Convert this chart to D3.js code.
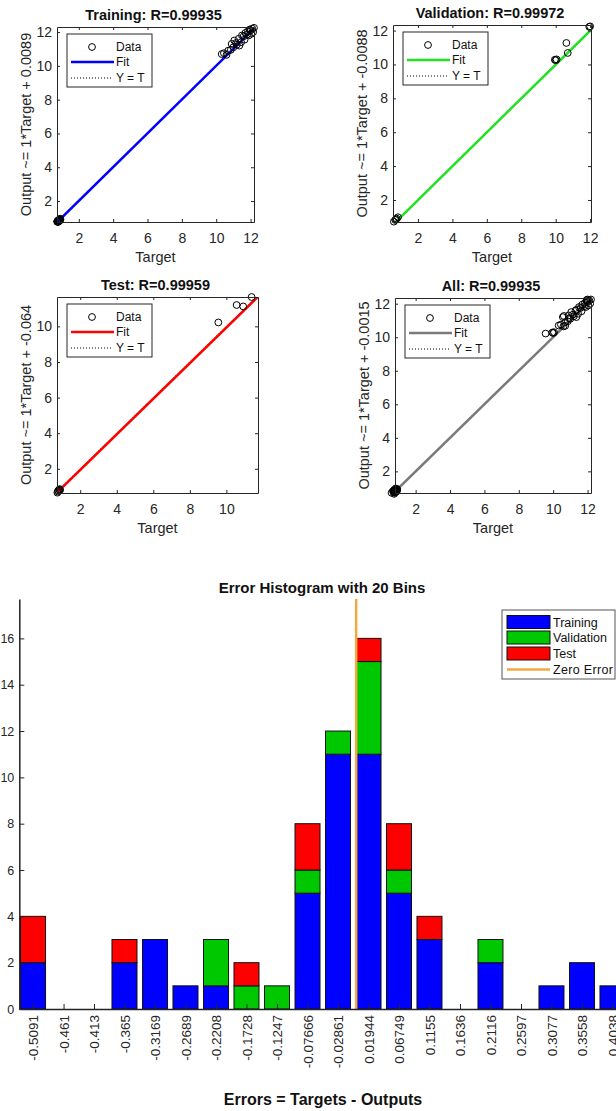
<!DOCTYPE html>
<html>
<head>
<meta charset="utf-8">
<script src="https://cdn.jsdelivr.net/npm/d3@7/dist/d3.min.js"></script>
<style>
body{margin:0;background:#fff;}
svg{display:block;font-family:"Liberation Sans",Arial,Helvetica,sans-serif;}
</style>
</head>
<body>
<svg></svg>
<script>
// regression data (target, output)
var trainTarget = [0.74,0.76,0.78,0.8,0.82,0.84,0.86,0.88,0.9,0.92,0.75,0.79,0.83,0.87,0.91,0.77,0.81,0.85,0.89,0.93,0.8,0.84,0.78,0.86,
                   10.32,10.45,10.6,10.7,10.85,10.9,11.0,11.05,11.15,11.2,11.3,11.35,11.45,11.5,11.6,11.65,11.7,11.8,11.85,11.9,12.0,12.05,12.1,12.15,12.2,11.95];
var trainOutput = [0.78,0.8,0.76,0.84,0.8,0.88,0.83,0.9,0.86,0.95,0.79,0.77,0.86,0.84,0.93,0.82,0.85,0.81,0.92,0.9,0.78,0.87,0.8,0.89,
                   10.7,10.75,10.65,10.9,10.95,11.3,11.1,11.5,11.35,11.25,11.6,11.2,11.4,11.8,11.75,11.55,11.95,11.85,12.05,11.8,12.1,11.9,12.2,12.0,12.25,12.15];
var valTarget = [0.6,0.68,0.76,0.84,0.72,9.95,10.0,10.05,10.62,10.7,11.95,12.0];
var valOutput = [0.72,0.82,0.9,0.98,0.85,10.28,10.25,10.3,11.27,10.68,12.22,12.25];
var testTarget = [0.75,0.8,0.85,0.9,0.78,0.88,9.56,10.56,10.92,11.38];
var testOutput = [0.66,0.78,0.82,0.8,0.72,0.86,10.22,11.2,11.12,11.65];
var allTarget = trainTarget.concat(valTarget, testTarget);
var allOutput = trainOutput.concat(valOutput, testOutput);

var panelTitles = ["Training: R=0.99935","Validation: R=0.99972","Test: R=0.99959","All: R=0.99935"];
var fitOffsets = [0.0089,-0.0088,-0.064,-0.0015];
var fitLabels = ["0.0089","-0.0088","-0.064","-0.0015"];
var fitColors = ["#0000ff","#22e022","#ff0000","#7a7a7a"];
var xDomains = [[0.73,12.2],[0.55,12.05],[0.73,11.73],[0.8,12.2]];
var yDomains = [[0.76,12.3],[0.7,12.33],[0.64,11.65],[0.71,12.34]];
var axisTicks = [[2,4,6,8,10,12],[2,4,6,8,10,12],[2,4,6,8,10],[2,4,6,8,10,12]];
var legendLabels = ["Data","Fit","Y = T"];

// error histogram
var binLabels = ["-0.5091","-0.461","-0.413","-0.365","-0.3169","-0.2689","-0.2208","-0.1728","-0.1247","-0.07666",
                 "-0.02861","0.01944","0.06749","0.1155","0.1636","0.2116","0.2597","0.3077","0.3558","0.4038"];
var trainCounts = [2,0,0,2,3,1,1,0,0,5,11,11,5,3,0,2,0,1,2,1];
var valCounts   = [0,0,0,0,0,0,2,1,1,1,1,4,1,0,0,1,0,0,0,0];
var testCounts  = [2,0,0,1,0,0,0,1,0,2,0,1,2,1,0,0,0,0,0,0];
var histTicks = [0,2,4,6,8,10,12,14,16];
var histSeries = ["Training","Validation","Test"];
var histColors = ["#0000ff","#00c800","#ff0000"];

var svg = d3.select("svg")
            .attr("width",616)
            .attr("height",1111);
svg.append("rect").attr("width",616).attr("height",1111).attr("fill","white");

var boxes = [
  {x0:57,x1:254,y0:27,y1:222},
  {x0:393,x1:591,y0:25,y1:222},
  {x0:57,x1:258,y0:297,y1:493},
  {x0:395,x1:591,y0:298,y1:493}
];
var targets = [trainTarget,valTarget,testTarget,allTarget];
var outputs = [trainOutput,valOutput,testOutput,allOutput];

var styleAxis = function(g,size)
{
  g.attr("font-family",null).attr("font-size",null);
  g.selectAll("path").attr("stroke","#262626");
  g.selectAll("line").attr("stroke","#262626");
  g.selectAll("text").attr("fill","#262626").attr("font-size",size);
}

var drawPanel = function(i)
{
  var box = boxes[i];
  var xScale = d3.scaleLinear().domain(xDomains[i]).range([box.x0,box.x1]);
  var yScale = d3.scaleLinear().domain(yDomains[i]).range([box.y1,box.y0]);
  var g = svg.append("g");

  g.append("clipPath").attr("id","clip"+i)
   .append("rect")
   .attr("x",box.x0).attr("y",box.y0)
   .attr("width",box.x1-box.x0).attr("height",box.y1-box.y0);

  // Y = T dotted, then fit
  var lineGen = d3.line().x(function(d){return xScale(d[0])}).y(function(d){return yScale(d[1])});
  var xd = xDomains[i];
  g.append("path")
   .attr("d",lineGen([[xd[0],xd[0]],[xd[1],xd[1]]]))
   .attr("clip-path","url(#clip"+i+")")
   .attr("stroke","black").attr("stroke-width",1)
   .attr("stroke-dasharray","1,2").attr("fill","none");
  g.append("path")
   .attr("d",lineGen([[xd[0],xd[0]+fitOffsets[i]],[xd[1],xd[1]+fitOffsets[i]]]))
   .attr("clip-path","url(#clip"+i+")")
   .attr("stroke",fitColors[i]).attr("stroke-width",2.5).attr("fill","none");

  g.append("g").selectAll("circle")
   .data(targets[i])
   .enter()
   .append("circle")
   .attr("cx",function(d){return xScale(d)})
   .attr("cy",function(d,j){return yScale(outputs[i][j])})
   .attr("r",3.4)
   .attr("fill","none")
   .attr("stroke","black")
   .attr("stroke-width",1);

  // axes, ticks inward on all sides
  var bottom = g.append("g").attr("transform","translate(0,"+box.y1+")")
    .call(d3.axisBottom(xScale).tickValues(axisTicks[i]).tickSizeInner(-3).tickSizeOuter(0).tickPadding(11));
  styleAxis(bottom,"14px");
  var left = g.append("g").attr("transform","translate("+box.x0+",0)")
    .call(d3.axisLeft(yScale).tickValues(axisTicks[i]).tickSizeInner(-3).tickSizeOuter(0).tickPadding(5));
  styleAxis(left,"14px");
  var top = g.append("g").attr("transform","translate(0,"+box.y0+")")
    .call(d3.axisTop(xScale).tickValues(axisTicks[i]).tickSizeInner(-3).tickSizeOuter(0).tickFormat(""));
  styleAxis(top,"14px");
  var right = g.append("g").attr("transform","translate("+box.x1+",0)")
    .call(d3.axisRight(yScale).tickValues(axisTicks[i]).tickSizeInner(-3).tickSizeOuter(0).tickFormat(""));
  styleAxis(right,"14px");

  var cx = (box.x0+box.x1)/2;
  g.append("text")
   .attr("x",cx-2).attr("y",box.y0-7)
   .attr("text-anchor","middle")
   .attr("font-weight","bold").attr("font-size","14.5px")
   .attr("fill","#111")
   .text(panelTitles[i]);
  g.append("text")
   .attr("x",cx).attr("y",box.y1+40)
   .attr("text-anchor","middle")
   .attr("font-size","14.5px").attr("fill","#262626")
   .text("Target");
  g.append("text")
   .attr("transform","translate("+(box.x0-26)+","+((box.y0+box.y1)/2)+") rotate(-90)")
   .attr("text-anchor","middle")
   .attr("font-size","14.5px").attr("fill","#262626")
   .text("Output ~= 1*Target + "+fitLabels[i]);

  // legend
  var lx = box.x0+10, ly = box.y0+7;
  var leg = g.append("g");
  leg.append("rect").attr("x",lx).attr("y",ly).attr("width",85).attr("height",53)
     .attr("fill","white").attr("stroke","#262626").attr("stroke-width",1);
  var rows = [ly+13,ly+28,ly+44];
  leg.append("circle").attr("cx",lx+25).attr("cy",rows[0]).attr("r",3.4)
     .attr("fill","none").attr("stroke","black");
  leg.append("line").attr("x1",lx+4).attr("x2",lx+47).attr("y1",rows[1]).attr("y2",rows[1])
     .attr("stroke",fitColors[i]).attr("stroke-width",2.5);
  leg.append("line").attr("x1",lx+4).attr("x2",lx+45).attr("y1",rows[2]).attr("y2",rows[2])
     .attr("stroke","black").attr("stroke-width",1).attr("stroke-dasharray","1,2");
  leg.selectAll("text.lab")
     .data(legendLabels)
     .enter()
     .append("text")
     .attr("x",lx+49)
     .attr("y",function(d,j){return rows[j]+4})
     .attr("font-size","12px").attr("fill","#111")
     .text(function(d){return d});
};

[0,1,2,3].forEach(function(i){ drawPanel(i); });

// ---------- error histogram ----------
var binCenters = binLabels.map(function(s){return +s});
var step = (binCenters[binCenters.length-1]-binCenters[0])/(binCenters.length-1);
var hx = d3.scaleLinear()
           .domain([binCenters[0]-0.45*step, binCenters[binCenters.length-1]+0.45*step])
           .range([19.3,626.2]);
var hy = d3.scaleLinear().domain([0,17.7]).range([1009,599]);

var rowsH = binCenters.map(function(c,i){
  return {center:c, Training:trainCounts[i], Validation:valCounts[i], Test:testCounts[i]};
});
var stacked = d3.stack().keys(histSeries)(rowsH);
var barW = hx(step*0.82)-hx(0);

var hg = svg.append("g");
stacked.forEach(function(layer,k)
{
  hg.append("g").selectAll("rect")
    .data(layer.filter(function(d){return d[1]>d[0]}))
    .enter()
    .append("rect")
    .attr("x",function(d){return hx(d.data.center)-barW/2})
    .attr("y",function(d){return hy(d[1])})
    .attr("width",barW)
    .attr("height",function(d){return hy(d[0])-hy(d[1])})
    .attr("fill",histColors[k])
    .attr("stroke","#111")
    .attr("stroke-width",1);
});

// zero error line
hg.append("line")
  .attr("x1",hx(0)).attr("x2",hx(0))
  .attr("y1",hy(17.7)).attr("y2",hy(0))
  .attr("stroke","#f0aa40").attr("stroke-width",2.5);

var hAxisX = hg.append("g").attr("transform","translate(0,"+hy(0)+")")
  .call(d3.axisBottom(hx).tickValues(binCenters)
          .tickFormat(function(d,i){return binLabels[i]})
          .tickSizeInner(-5).tickSizeOuter(0));
styleAxis(hAxisX,"13.5px");
hAxisX.select(".domain").attr("stroke","#222").attr("stroke-width",1.5);
hAxisX.selectAll("text")
  .attr("transform","rotate(-90)")
  .attr("text-anchor","end")
  .attr("x",-6).attr("y",0).attr("dy","0.35em");

var hAxisY = hg.append("g").attr("transform","translate("+hx.range()[0]+",0)")
  .call(d3.axisLeft(hy).tickValues(histTicks).tickSizeInner(-5).tickSizeOuter(0).tickPadding(5));
styleAxis(hAxisY,"12.5px");
hAxisY.select(".domain").attr("stroke","#222").attr("stroke-width",1.5);

hg.append("text")
  .attr("x",322).attr("y",593)
  .attr("text-anchor","middle")
  .attr("font-weight","bold").attr("font-size","15px")
  .attr("fill","#111")
  .text("Error Histogram with 20 Bins");
hg.append("text")
  .attr("x",323).attr("y",1105)
  .attr("text-anchor","middle")
  .attr("font-weight","bold").attr("font-size","16px")
  .attr("fill","#111")
  .text("Errors = Targets - Outputs");

// histogram legend
var hl = hg.append("g");
hl.append("rect").attr("x",502).attr("y",610).attr("width",113).attr("height",69)
  .attr("fill","white").attr("stroke","#555").attr("stroke-width",1);
var legRows = [622,637.5,653.5,669.5];
histSeries.forEach(function(s,k)
{
  hl.append("rect").attr("x",507).attr("y",legRows[k]-6.5).attr("width",43).attr("height",13)
    .attr("fill",histColors[k]).attr("stroke","#111").attr("stroke-width",1);
});
hl.append("line").attr("x1",507).attr("x2",550).attr("y1",legRows[3]).attr("y2",legRows[3])
  .attr("stroke","#f0aa40").attr("stroke-width",2.5);
hl.selectAll("text")
  .data(histSeries.concat(["Zero Error"]))
  .enter()
  .append("text")
  .attr("x",553)
  .attr("y",function(d,i){return legRows[i]+4.5})
  .attr("font-size","12.5px").attr("fill","#111")
  .attr("textLength",function(d){return d=="Zero Error"?60:null})
  .text(function(d){return d});
</script>
</body>
</html>
